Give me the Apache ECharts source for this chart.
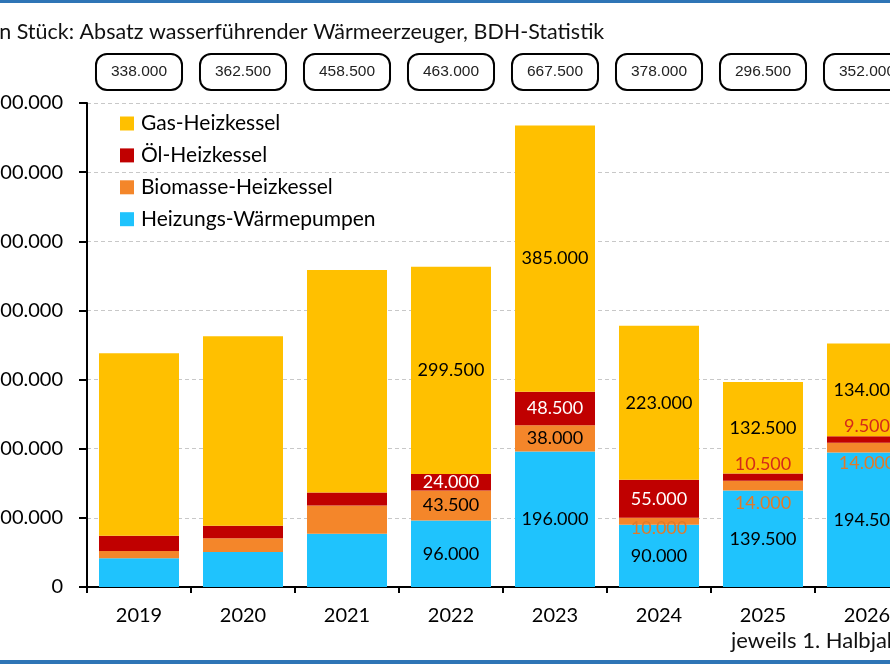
<!DOCTYPE html>
<html>
<head>
<meta charset="utf-8">
<script src="https://cdn.jsdelivr.net/npm/echarts@6/dist/echarts.min.js"></script>
<style>
html,body{margin:0;padding:0;background:#fff;}
#chart{width:890px;height:664px;}
</style>
</head>
<body>
<div id="chart"></div>
<script>
// ---- data ----
const categories = ['2019', '2020', '2021', '2022', '2023', '2024', '2025', '2026'];
const gasHeizkessel = [264000, 274000, 322000, 299500, 385000, 223000, 132500, 134000];
const oelHeizkessel = [22000, 18000, 18500, 24000, 48500, 55000, 10500, 9500];
const biomasseHeizkessel = [10500, 20000, 41000, 43500, 38000, 10000, 14000, 14000];
const waermepumpen = [41500, 50500, 77000, 96000, 196000, 90000, 139500, 194500];
const totals = [338000, 362500, 458500, 463000, 667500, 378000, 296500, 352000];
const labelledYears = ['2022', '2023', '2024', '2025', '2026'];
const seriesNames = ['Gas-Heizkessel', 'Öl-Heizkessel', 'Biomasse-Heizkessel', 'Heizungs-Wärmepumpen'];
const titleText = 'in Stück: Absatz wasserführender Wärmeerzeuger, BDH-Statistik';
const noteText = 'jeweils 1. Halbjahr';

// ---- helpers ----
const fmt = v => String(v).replace(/\B(?=(\d{3})+(?!\d))/g, '.');
const FONT = 'Lato';
const colors = {
  'Gas-Heizkessel': '#FFC000',
  'Öl-Heizkessel': '#C00000',
  'Biomasse-Heizkessel': '#F4862A',
  'Heizungs-Wärmepumpen': '#1FC3FD'
};
// per-label style adjustments (styling, not data)
const labelStyle = {
  'Heizungs-Wärmepumpen': () => ({ color: '#000' }),
  'Biomasse-Heizkessel': (y) => ({
    '2022': { color: '#000' }, '2023': { color: '#000' },
    '2024': { color: '#E07A2A', offset: [0, 7] },
    '2025': { color: '#E07A2A', offset: [0, 17] },
    '2026': { color: '#E07A2A', offset: [0, 16] }
  })[y] || {},
  'Öl-Heizkessel': (y) => ({
    '2022': { color: '#fff' }, '2023': { color: '#fff' }, '2024': { color: '#fff' },
    '2025': { color: '#D42A1A', offset: [0, -13] },
    '2026': { color: '#D42A1A', offset: [0, -13] }
  })[y] || {},
  'Gas-Heizkessel': () => ({ color: '#000' })
};

function makeSeries(name, values) {
  return {
    name: name,
    type: 'bar',
    stack: 'total',
    barWidth: 80,
    itemStyle: { color: colors[name] },
    emphasis: { disabled: true },
    label: {
      show: false, position: 'inside', fontFamily: FONT, fontSize: 18,
      formatter: p => fmt(p.value)
    },
    data: values.map((v, i) => {
      const y = categories[i];
      const show = labelledYears.indexOf(y) >= 0;
      return { value: v, label: Object.assign({ show: show }, show ? labelStyle[name](y) : {}) };
    })
  };
}

const chart = echarts.init(document.getElementById('chart'), null, { renderer: 'canvas' });
const option = {
  animation: false,
  backgroundColor: '#fff',
  textStyle: { fontFamily: FONT },
  grid: { left: 87, top: 103, width: 832, height: 484, containLabel: false, outerBoundsMode: 'none' },
  legend: {
    orient: 'vertical', left: 115, top: 108,
    data: seriesNames,
    icon: 'rect', itemWidth: 14, itemHeight: 14, itemGap: 10.9,
    selectedMode: false,
    formatter: n => '{a|' + n + '}',
    textStyle: {
      rich: { a: { fontFamily: FONT, fontSize: 21, color: '#000', lineHeight: 19, padding: [0, 0, 0, 2] } }
    }
  },
  xAxis: [
    {
      type: 'category', data: categories, position: 'bottom',
      axisLine: { show: true, lineStyle: { color: '#000', width: 2 } },
      axisTick: { show: true, length: 6, lineStyle: { color: '#000', width: 2 } },
      axisLabel: { fontFamily: FONT, fontSize: 20, color: '#000', margin: 19 }
    },
    {
      type: 'category', data: totals.map(fmt), position: 'top',
      axisLine: { show: false }, axisTick: { show: false }, splitLine: { show: false },
      axisLabel: {
        fontFamily: 'Liberation Sans', fontSize: 15.5, color: '#222', margin: 14,
        lineHeight: 18, padding: [8, 14, 8, 14],
        borderColor: '#000', borderWidth: 2, borderRadius: 10, backgroundColor: '#fff'
      }
    }
  ],
  yAxis: {
    type: 'value', min: 0, max: 700000, interval: 100000,
    axisLine: { show: true, lineStyle: { color: '#000', width: 2 } },
    axisTick: { show: true, length: 8, lineStyle: { color: '#000', width: 2 } },
    splitLine: { show: true, lineStyle: { color: '#C8C8C8', type: [4, 3], width: 1 } },
    axisLabel: { fontFamily: FONT, fontSize: 20, color: '#000', margin: 24, formatter: v => fmt(v) }
  },
  series: [
    makeSeries('Heizungs-Wärmepumpen', waermepumpen),
    makeSeries('Biomasse-Heizkessel', biomasseHeizkessel),
    makeSeries('Öl-Heizkessel', oelHeizkessel),
    makeSeries('Gas-Heizkessel', gasHeizkessel)
  ],
  graphic: [
    { type: 'rect', left: 0, top: 0, shape: { width: 890, height: 3 }, style: { fill: '#2E75B6' } },
    { type: 'rect', left: 0, top: 660, shape: { width: 890, height: 4 }, style: { fill: '#2E75B6' } },
    { type: 'text', x: -6, y: 32, style: { text: titleText, fontFamily: FONT, fontSize: 21.5, fill: '#111', textVerticalAlign: 'middle' } },
    { type: 'text', x: 731, y: 641, style: { text: noteText, fontFamily: FONT, fontSize: 22, fill: '#111', textVerticalAlign: 'middle' } }
  ]
};
chart.setOption(option);
</script>
</body>
</html>
